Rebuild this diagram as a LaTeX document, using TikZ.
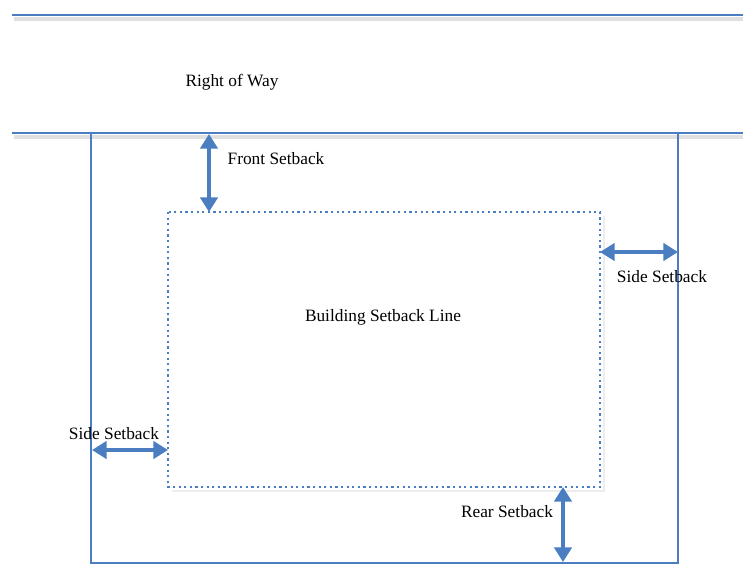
\documentclass[tikz,border=0pt]{standalone}
\usepackage{fontspec}
\setmainfont{Liberation Serif}
\usetikzlibrary{arrows.meta}
\definecolor{lotblue}{RGB}{74,126,193}
\tikzset{
  lotline/.style={draw=lotblue, line width=2.2pt},
  shadowline/.style={draw=black!12, line width=3.5pt},
  setbackline/.style={draw=lotblue, line width=2pt, dash pattern=on 1.6pt off 2.6pt},
  dimarrow/.style={draw=lotblue, line width=2.6pt, {Triangle[length=11pt,width=13pt]}-{Triangle[length=11pt,width=13pt]}},
  lbl/.style={font=\fontsize{13}{15}\selectfont, inner sep=1pt}
}
\begin{document}
\begin{tikzpicture}[x=0.75pt, y=-0.75pt]
  \useasboundingbox (0,0) rectangle (743,565);
  % right of way lines
  \draw[shadowline] (14,19) -- (743,19);
  \draw[shadowline] (14,137) -- (743,137);
  \draw[lotline] (12,15) -- (743,15);
  \draw[lotline] (12,133) -- (743,133);
  \node[lbl] (row) at (232,82) {Right of Way};
  % lot boundary
  \draw[lotline] (91,133) -- (91,563) -- (678,563) -- (678,133);
  % building setback line
  \draw[shadowline, draw=black!7, line width=2pt] (172,491) -- (604,491) -- (604,216);
  \draw[setbackline] (168,212) rectangle (600,487);
  \node[lbl] (bsl) at (383,317) {Building Setback Line};
  % setback arrows
  \coordinate (fronttop) at (209,134);
  \coordinate (frontbot) at (209,212);
  \coordinate (sideRa) at (600,252);
  \coordinate (sideRb) at (678,252);
  \coordinate (sideLa) at (92,450);
  \coordinate (sideLb) at (168,450);
  \coordinate (reartop) at (563,487);
  \coordinate (rearbot) at (563,562);
  \draw[dimarrow] (fronttop) -- (frontbot);
  \draw[dimarrow] (sideRa) -- (sideRb);
  \draw[dimarrow] (sideLa) -- (sideLb);
  \draw[dimarrow] (reartop) -- (rearbot);
  \node[lbl] (front) at (276,159) {Front Setback};
  \node[lbl] (sideR) at (662,277) {Side Setback};
  \node[lbl] (sideL) at (114,434) {Side Setback};
  \node[lbl] (rear) at (507,512) {Rear Setback};
\end{tikzpicture}
\end{document}
